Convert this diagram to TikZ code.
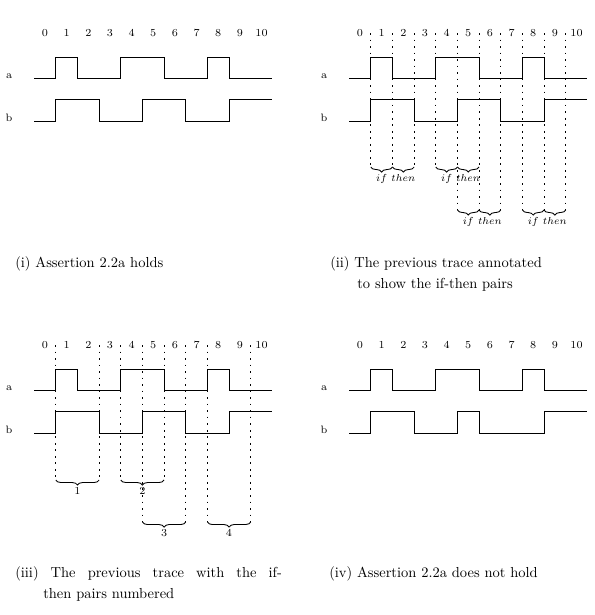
\documentclass[tikz,border=0pt]{standalone}
\usetikzlibrary{decorations.pathreplacing}

% tick numbers and the two signal names of one trace
\newcommand{\tracehead}[1]{%
  \foreach \t in {0,...,10}
    \node[ticknum] (#1n\t) at (\t,36.5) {\t};
  \node[ticknum] (#1a) at (-1.66,78.5) {a};
  \node[ticknum] (#1b) at (-1.66,121) {b};
}

\begin{document}
\begin{tikzpicture}[x=0.69pt,y=-0.69pt,
    ticknum/.style={anchor=base,inner sep=0pt,font=\fontsize{7.4}{9}\selectfont},
    wave/.style={line width=0.75pt},
    guide/.style={line width=0.5pt,dash pattern=on 1.2pt off 3.3pt},
    brc/.style={decorate,decoration={brace,mirror,amplitude=3.5pt},line width=0.6pt},
    brlbl/.style={midway,anchor=base,yshift=-10pt,inner sep=0pt,font=\fontsize{7.4}{9}\selectfont},
    capline/.style={anchor=base west,inner sep=0pt,font=\fontsize{10}{12}\selectfont}]
  \useasboundingbox (0,0) rectangle (595,615);

  % (i)
  \begin{scope}[shift={(45,0)},x=14.94pt]
    \tracehead{p1}
    \draw[wave] (-0.5,78.5) -| (0.5,57.5) -| (1.5,78.5) -| (3.5,57.5) -| (5.5,78.5) -| (7.5,57.5) -| (8.5,78.5) -- (10.5,78.5);
    \draw[wave] (-0.5,121.5) -| (0.5,99.5) -| (2.5,121.5) -| (4.5,99.5) -| (6.5,121.5) -| (8.5,99.5) -- (10.5,99.5);
  \end{scope}

  % (ii)
  \begin{scope}[shift={(360,0)},x=14.94pt]
    \tracehead{p2}
    \draw[wave] (-0.5,78.5) -| (0.5,57.5) -| (1.5,78.5) -| (3.5,57.5) -| (5.5,78.5) -| (7.5,57.5) -| (8.5,78.5) -- (10.5,78.5);
    \draw[wave] (-0.5,121.5) -| (0.5,99.5) -| (2.5,121.5) -| (4.5,99.5) -| (6.5,121.5) -| (8.5,99.5) -- (10.5,99.5);
    \draw[guide] (0.5,33) -- (0.5,167) (1.5,33) -- (1.5,167) (2.5,33) -- (2.5,167) (3.5,33) -- (3.5,167);
    \draw[guide] (4.5,33) -- (4.5,210) (5.5,33) -- (5.5,210) (6.5,33) -- (6.5,210)
                 (7.5,33) -- (7.5,210) (8.5,33) -- (8.5,210) (9.5,33) -- (9.5,210);
    \draw[brc] (0.5,167) -- (1.5,167) node[brlbl] (p2if1) {$if$};
    \draw[brc] (1.5,167) -- (2.5,167) node[brlbl] (p2then1) {$then$};
    \draw[brc] (3.5,167) -- (4.5,167) node[brlbl] (p2if2) {$if$};
    \draw[brc] (4.5,167) -- (5.5,167) node[brlbl] (p2then2) {$then$};
    \draw[brc] (4.5,210) -- (5.5,210) node[brlbl] (p2if3) {$if$};
    \draw[brc] (5.5,210) -- (6.5,210) node[brlbl] (p2then3) {$then$};
    \draw[brc] (7.5,210) -- (8.5,210) node[brlbl] (p2if4) {$if$};
    \draw[brc] (8.5,210) -- (9.5,210) node[brlbl] (p2then4) {$then$};
  \end{scope}

  % (iii)
  \begin{scope}[shift={(45,312)},x=14.94pt]
    \tracehead{p3}
    \draw[wave] (-0.5,78.5) -| (0.5,57.5) -| (1.5,78.5) -| (3.5,57.5) -| (5.5,78.5) -| (7.5,57.5) -| (8.5,78.5) -- (10.5,78.5);
    \draw[wave] (-0.5,121.5) -| (0.5,99.5) -| (2.5,121.5) -| (4.5,99.5) -| (6.5,121.5) -| (8.5,99.5) -- (10.5,99.5);
    \draw[guide] (0.5,33) -- (0.5,168) (2.5,33) -- (2.5,168) (3.5,33) -- (3.5,168) (5.5,33) -- (5.5,168);
    \draw[guide] (4.5,33) -- (4.5,210) (6.5,33) -- (6.5,210) (7.5,33) -- (7.5,210) (9.5,33) -- (9.5,210);
    \draw[brc] (0.5,168) -- (2.5,168) node[brlbl] (p3pair1) {1};
    \draw[brc] (3.5,168) -- (5.5,168) node[brlbl] (p3pair2) {2};
    \draw[brc] (4.5,210) -- (6.5,210) node[brlbl] (p3pair3) {3};
    \draw[brc] (7.5,210) -- (9.5,210) node[brlbl] (p3pair4) {4};
  \end{scope}

  % (iv)
  \begin{scope}[shift={(360,312)},x=14.94pt]
    \tracehead{p4}
    \draw[wave] (-0.5,78.5) -| (0.5,57.5) -| (1.5,78.5) -| (3.5,57.5) -| (5.5,78.5) -| (7.5,57.5) -| (8.5,78.5) -- (10.5,78.5);
    \draw[wave] (-0.5,121.5) -| (0.5,99.5) -| (2.5,121.5) -| (4.5,99.5) -| (5.5,121.5) -| (8.5,99.5) -- (10.5,99.5);
  \end{scope}

  % captions
  \node[capline] (cap1) at (15,267.5) {(i) Assertion 2.2a holds};
  \node[capline] (cap2) at (330,267.5) {(ii) The previous trace annotated};
  \node[capline] (cap2b) at (357,288.5) {to show the if-then pairs};
  \node[capline] (cap3) at (15,577.3) {\makebox[184pt][s]{(iii) The previous trace with the if-}};
  \node[capline] (cap3b) at (43,598.3) {then pairs numbered};
  \node[capline] (cap4) at (329,577.3) {(iv) Assertion 2.2a does not hold};
\end{tikzpicture}
\end{document}
